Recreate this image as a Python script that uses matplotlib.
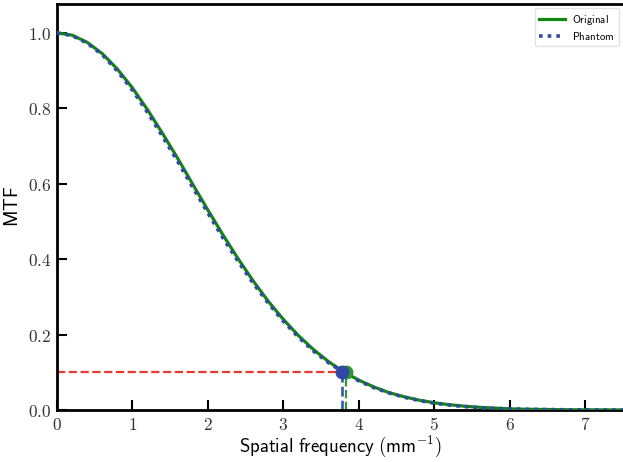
import matplotlib
matplotlib.use("Agg")
import matplotlib.pyplot as plt

plt.rcParams['mathtext.fontset'] = 'cm'

# values
freq = [0.0, 0.2, 0.4, 0.6, 0.8, 1.0, 1.2, 1.4, 1.6, 1.8, 2.0, 2.2, 2.4, 2.6, 2.8,
        3.0, 3.2, 3.4, 3.6, 3.8, 4.0, 4.2, 4.4, 4.6, 4.8, 5.0, 5.2, 5.4, 5.6, 5.8,
        6.0, 6.2, 6.4, 6.6, 6.8, 7.0, 7.2, 7.4, 7.6]
mtf_original = [1.000, 0.994, 0.975, 0.945, 0.904, 0.854, 0.796, 0.733, 0.667, 0.598,
                0.530, 0.464, 0.401, 0.342, 0.288, 0.240, 0.197, 0.160, 0.128, 0.101,
                0.079, 0.061, 0.046, 0.035, 0.026, 0.019, 0.014, 0.010, 0.007, 0.005,
                0.003, 0.002, 0.0015, 0.001, 0.0006, 0.0004, 0.0003, 0.0002, 0.0001]
mtf_phantom = [1.000, 0.993, 0.973, 0.942, 0.899, 0.848, 0.789, 0.725, 0.659, 0.590,
               0.522, 0.456, 0.394, 0.336, 0.283, 0.235, 0.193, 0.156, 0.125, 0.099,
               0.077, 0.059, 0.045, 0.034, 0.025, 0.018, 0.013, 0.009, 0.006, 0.004,
               0.003, 0.002, 0.0013, 0.0009, 0.0005, 0.0003, 0.0002, 0.0001, 0.0001]
threshold = 0.1
f10_original = 3.83
f10_phantom = 3.78

fig = plt.figure(figsize=(6.23, 4.62), dpi=100)
ax = fig.add_axes([0.0915, 0.1126, 0.9085, 0.879])

ax.plot(freq, mtf_original, color='#128512', lw=2.3, label=r'$\mathsf{Original}$', zorder=3)
ax.plot(freq, mtf_phantom, color='#3547a6', lw=2.6, ls=(0, (1.0, 1.4)),
        label=r'$\mathsf{Phantom}$', zorder=4)

ax.plot([0, f10_phantom], [threshold, threshold], color='#e8392f', ls='--', lw=1.6, zorder=2)
ax.plot([f10_original, f10_original], [0, threshold], color='#2e9a2e', ls='--', lw=1.6, zorder=2)
ax.plot([f10_phantom, f10_phantom], [0, threshold], color='#3a52b8', ls='--', lw=1.9, zorder=2)
ax.plot([f10_original], [threshold], 'o', color='#2a9a2a', ms=9, zorder=5)
ax.plot([f10_phantom], [threshold], 'o', color='#3547a6', ms=9, zorder=6)

ax.set_xlim(0, 7.5)
ax.set_ylim(0, 1.077)
ax.set_xticks(range(0, 8))
ax.set_xticklabels([f'${i}$' for i in range(0, 8)])
ax.set_yticks([0.0, 0.2, 0.4, 0.6, 0.8, 1.0])
ax.set_yticklabels([f'${v:.1f}$' for v in [0.0, 0.2, 0.4, 0.6, 0.8, 1.0]])
ax.tick_params(direction='in', length=7, width=1.5, labelsize=12.5, pad=4,
               labelcolor='#333333')
ax.tick_params(axis='x', pad=4)
for s in ['left', 'bottom', 'top']:
    ax.spines[s].set_linewidth(2)
ax.spines['right'].set_visible(False)

ax.set_xlabel(r'$\mathsf{Spatial\ frequency\ (mm^{-1})}$', fontsize=13.5, labelpad=0)
ax.set_ylabel(r'$\mathsf{MTF}$', fontsize=13.5, labelpad=4)

leg = ax.legend(loc='upper right', fontsize=7.8, frameon=True, handlelength=2.4,
                borderaxespad=0.4, labelspacing=0.3, handletextpad=0.6)
leg.get_frame().set_edgecolor('#dddddd')

fig.savefig('out.png', dpi=100)
